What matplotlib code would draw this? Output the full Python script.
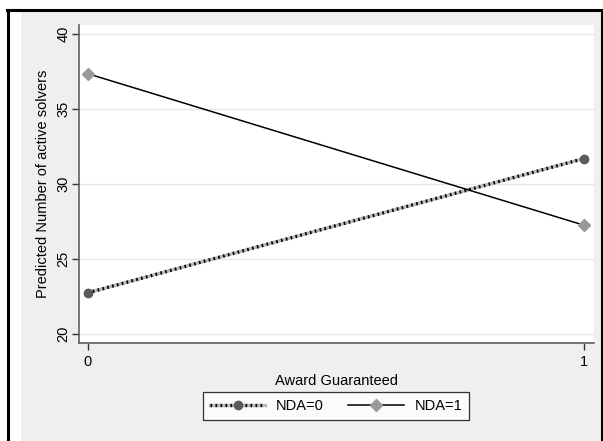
import matplotlib.pyplot as plt
from matplotlib.lines import Line2D
from matplotlib.patches import Rectangle

plt.rcParams['font.family'] = ['Liberation Sans', 'DejaVu Sans']

# predicted values
award = [0, 1]
nda0 = [22.75, 31.7]
nda1 = [37.35, 27.25]
yticks = [20, 25, 30, 35, 40]
xticks = [0, 1]

W, H = 603, 441
fig = plt.figure(figsize=(W / 100, H / 100), dpi=100)
fig.patch.set_facecolor('white')

# stata-style gray background and black frame
fig.patches.append(Rectangle((21 / W, 0), (601 - 21) / W, (H - 12) / H,
                             transform=fig.transFigure, facecolor='#efefef',
                             edgecolor='none', zorder=-5))
for xs, ys in [([8 / W, 8 / W], [0, 1 - 10 / H]),
               ([7 / W, 603 / W], [1 - 10 / H, 1 - 10 / H]),
               ([602 / W, 602 / W], [0, 1 - 10 / H])]:
    fig.lines.append(Line2D(xs, ys, transform=fig.transFigure, color='black',
                            lw=2.2, zorder=-4))

ax = fig.add_axes([79 / W, (H - 343) / H, (594 - 79) / W, (343 - 25) / H])
ax.set_facecolor('white')

# NDA=0: gray line with fine black dashes on top
ax.plot(award, nda0, color='#b8b8b8', lw=2.4, zorder=3)
ax.plot(award, nda0, color='black', lw=2.4, ls=(0, (0.5, 1.0)), zorder=4)
ax.plot(award, nda0, 'o', color='#5a5a5a', ms=6, zorder=5)
ax.plot(award, nda1, color='black', lw=1.1, zorder=3)
ax.plot(award, nda1, 'D', color='#999999', ms=6.5, zorder=5)

ax.set_xlim(-0.018, 1.02)
ax.set_ylim(19.4, 40.6)
ax.set_yticks(yticks)
ax.set_xticks(xticks)
ax.grid(axis='y', color='#e6e6e6', lw=1.0)
ax.set_axisbelow(True)

for s in ['top', 'right']:
    ax.spines[s].set_visible(False)
for s in ['left', 'bottom']:
    ax.spines[s].set_color('#606060')
    ax.spines[s].set_linewidth(1.2)

fs = 10.5
ax.tick_params(axis='y', length=5, width=1, color='#333333', labelsize=fs, pad=1)
ax.tick_params(axis='x', length=5, width=1, color='#333333', labelsize=fs, pad=4)
for lbl in ax.get_yticklabels():
    lbl.set_rotation(90)
    lbl.set_va('center')

ax.set_ylabel('Predicted Number of active solvers', fontsize=fs, labelpad=5)
ax.set_xlabel('Award Guaranteed', fontsize=fs, labelpad=3)

h0 = (Line2D([], [], color='#b8b8b8', lw=2.4),
      Line2D([], [], color='black', lw=2.4, ls=(0, (0.5, 1.0))),
      Line2D([], [], marker='o', color='#5a5a5a', ls='none', ms=6))
h1 = Line2D([], [], color='black', lw=1.1, marker='D', mfc='#999999',
            mec='#999999', ms=6.5)
leg = fig.legend([h0, h1], ['NDA=0', 'NDA=1'], loc='center',
                 bbox_to_anchor=(336 / W, 1 - 406 / H), ncol=2, fontsize=fs,
                 frameon=True, fancybox=False, edgecolor='black',
                 handlelength=3.8, handletextpad=0.75, columnspacing=1.65,
                 borderpad=0.45)
leg.get_frame().set_linewidth(0.9)

fig.savefig('out.png', dpi=100)
